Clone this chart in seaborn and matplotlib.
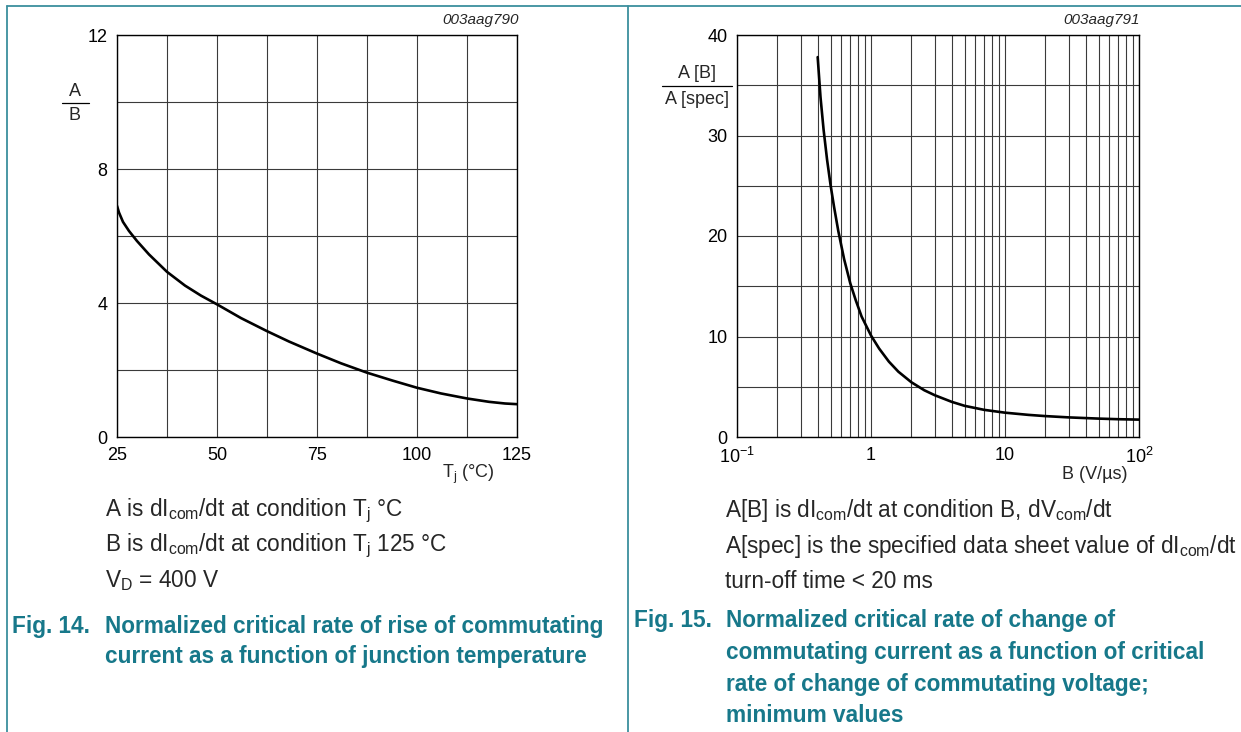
import numpy as np
import pandas as pd
import matplotlib
matplotlib.use("Agg")
import matplotlib.pyplot as plt
import seaborn as sns
from matplotlib.lines import Line2D
from matplotlib.ticker import FixedLocator, FixedFormatter, NullFormatter

# ---------------- data ----------------
tj_c = [25, 25.5, 26.5, 28, 30, 33, 37.5, 42, 46, 50, 56, 62.5, 68, 75, 81, 87.5,
        94, 100, 106, 112.5, 118, 122, 125]
ratio_tj = [6.9, 6.7, 6.42, 6.15, 5.85, 5.45, 4.93, 4.52, 4.22, 3.96, 3.55, 3.16, 2.85,
            2.49, 2.2, 1.92, 1.68, 1.47, 1.3, 1.15, 1.05, 1.0, 0.98]

b_vus = [0.4, 0.42, 0.443, 0.47, 0.5, 0.53, 0.57, 0.63, 0.7, 0.77, 0.85, 1.0, 1.15,
         1.36, 1.6, 2.0, 2.5, 3.0, 4.0, 5.0, 7.0, 10.0, 15.0, 20.0, 30.0, 50.0, 70.0, 100.0]
ratio_b = [37.8, 33.8, 30.55, 27.6, 25.0, 22.9, 20.5, 17.7, 15.3, 13.6, 12.0, 10.1, 8.8,
           7.5, 6.5, 5.45, 4.65, 4.15, 3.5, 3.1, 2.7, 2.42, 2.2, 2.08, 1.95, 1.83, 1.77, 1.73]

left_xticks = [25, 50, 75, 100, 125]
left_yticks = [0, 4, 8, 12]
right_xticks = [0.1, 1, 10, 100]
right_xticklabels = [r"10$^{-1}$", "1", "10", r"10$^{2}$"]
right_yticks = [0, 10, 20, 30, 40]

notes_left = [r"A is dI$_{\mathrm{com}}$/dt at condition T$_{\mathrm{j}}$ °C",
              r"B is dI$_{\mathrm{com}}$/dt at condition T$_{\mathrm{j}}$ 125 °C",
              r"V$_{\mathrm{D}}$ = 400 V"]
notes_right = [r"A[B] is dI$_{\mathrm{com}}$/dt at condition B, dV$_{\mathrm{com}}$/dt",
               r"A[spec] is the specified data sheet value of dI$_{\mathrm{com}}$/dt",
               "turn-off time < 20 ms"]
cap_left = ["Normalized critical rate of rise of commutating",
            "current as a function of junction temperature"]
cap_right = ["Normalized critical rate of change of",
             "commutating current as a function of critical",
             "rate of change of commutating voltage;",
             "minimum values"]

# ---------------- style ----------------
sns.set_theme(style="white")
plt.rcParams['font.family'] = ['Liberation Sans', 'DejaVu Sans']
plt.rcParams['mathtext.fontset'] = 'custom'
plt.rcParams['mathtext.rm'] = 'Liberation Sans'
plt.rcParams['mathtext.it'] = 'Liberation Sans:italic'
plt.rcParams['mathtext.bf'] = 'Liberation Sans:bold'

W, H = 1241, 732
fig = plt.figure(figsize=(W / 100, H / 100), dpi=100)
fig.patch.set_facecolor("white")

def fx(x):
    return x / W

def fy(y):
    return 1 - y / H

TEAL = "#17788a"
BORDER = "#3c8f9d"
GRID = "#3a3a3a"
TICKFS = 13
LABFS = 13

def style_axes(ax):
    for s in ax.spines.values():
        s.set_color("black")
        s.set_linewidth(1.0)
    ax.grid(True, which="both", color=GRID, linewidth=0.8)
    ax.tick_params(which="both", length=0, labelsize=TICKFS, colors="black", pad=7)
    ax.set_facecolor("white")
    ax.set_xlabel("")
    ax.set_ylabel("")

# ---------------- left panel ----------------
ax1 = fig.add_axes([fx(117), fy(437), (517 - 117) / W, (437 - 35) / H])
df1 = pd.DataFrame({"Tj": tj_c, "ratio": ratio_tj})
sns.lineplot(data=df1, x="Tj", y="ratio", ax=ax1, color="black", linewidth=1.9)
ax1.set_xlim(25, 125)
ax1.set_ylim(0, 12)
ax1.xaxis.set_major_locator(FixedLocator(left_xticks))
ax1.xaxis.set_minor_locator(FixedLocator([37.5, 62.5, 87.5, 112.5]))
ax1.yaxis.set_major_locator(FixedLocator(left_yticks))
ax1.yaxis.set_minor_locator(FixedLocator([2, 6, 10]))
style_axes(ax1)

# ---------------- right panel ----------------
ax2 = fig.add_axes([fx(737), fy(437), (1139 - 737) / W, (437 - 35) / H])
df2 = pd.DataFrame({"B": b_vus, "ratio": ratio_b})
sns.lineplot(data=df2, x="B", y="ratio", ax=ax2, color="black", linewidth=1.9)
ax2.set_xscale("log")
ax2.set_xlim(0.1, 100)
ax2.set_ylim(0, 40)
ax2.xaxis.set_major_locator(FixedLocator(right_xticks))
ax2.xaxis.set_major_formatter(FixedFormatter(right_xticklabels))
minors = [m * d for d in (0.1, 1, 10) for m in range(2, 10)]
ax2.xaxis.set_minor_locator(FixedLocator(minors))
ax2.xaxis.set_minor_formatter(NullFormatter())
ax2.yaxis.set_major_locator(FixedLocator(right_yticks))
ax2.yaxis.set_minor_locator(FixedLocator([5, 15, 25, 35]))
style_axes(ax2)

# ---------------- axis labels / ids ----------------
fig.text(fx(519), fy(20), "003aag790", ha="right", va="center", fontsize=11, style="italic")
fig.text(fx(1140), fy(20), "003aag791", ha="right", va="center", fontsize=11, style="italic")

fig.text(fx(75), fy(91), "A", ha="center", va="center", fontsize=LABFS)
fig.text(fx(75), fy(116), "B", ha="center", va="center", fontsize=LABFS)
fig.add_artist(Line2D([fx(62), fx(89)], [fy(103), fy(103)], color="black", lw=0.9))

fig.text(fx(697), fy(73), "A [B]", ha="center", va="center", fontsize=LABFS)
fig.text(fx(697), fy(99), "A [spec]", ha="center", va="center", fontsize=LABFS)
fig.add_artist(Line2D([fx(662), fx(732)], [fy(86), fy(86)], color="black", lw=0.9))

fig.text(fx(468), fy(474), r"T$_{\mathrm{j}}$ (°C)", ha="center", va="center", fontsize=LABFS)
fig.text(fx(1095), fy(474), "B (V/µs)", ha="center", va="center", fontsize=LABFS)

# ---------------- notes ----------------
NOTEFS = 16.3
for i, t in enumerate(notes_left):
    fig.text(fx(105), fy(511 + 35 * i), t, ha="left", va="center", fontsize=NOTEFS)
for i, t in enumerate(notes_right):
    fig.text(fx(725), fy(511 + 35 * i), t, ha="left", va="center", fontsize=NOTEFS)

# ---------------- captions ----------------
CAPFS = 16.3
fig.text(fx(12), fy(626), "Fig. 14.", ha="left", va="center", fontsize=CAPFS, weight="bold", color=TEAL)
for i, t in enumerate(cap_left):
    fig.text(fx(105), fy(626 + 31 * i), t, ha="left", va="center", fontsize=CAPFS, weight="bold", color=TEAL)
fig.text(fx(634), fy(620), "Fig. 15.", ha="left", va="center", fontsize=CAPFS, weight="bold", color=TEAL)
for i, t in enumerate(cap_right):
    fig.text(fx(726), fy(620 + 32 * i), t, ha="left", va="center", fontsize=CAPFS, weight="bold", color=TEAL)

# ---------------- frame lines ----------------
fig.add_artist(Line2D([fx(7), fx(1241)], [fy(5.5), fy(5.5)], color=BORDER, lw=1.3))
fig.add_artist(Line2D([fx(7), fx(7)], [fy(5.5), fy(732)], color=BORDER, lw=1.3))
fig.add_artist(Line2D([fx(627.5), fx(627.5)], [fy(5.5), fy(732)], color=BORDER, lw=1.3))

fig.savefig("out.png", dpi=100, facecolor="white")
